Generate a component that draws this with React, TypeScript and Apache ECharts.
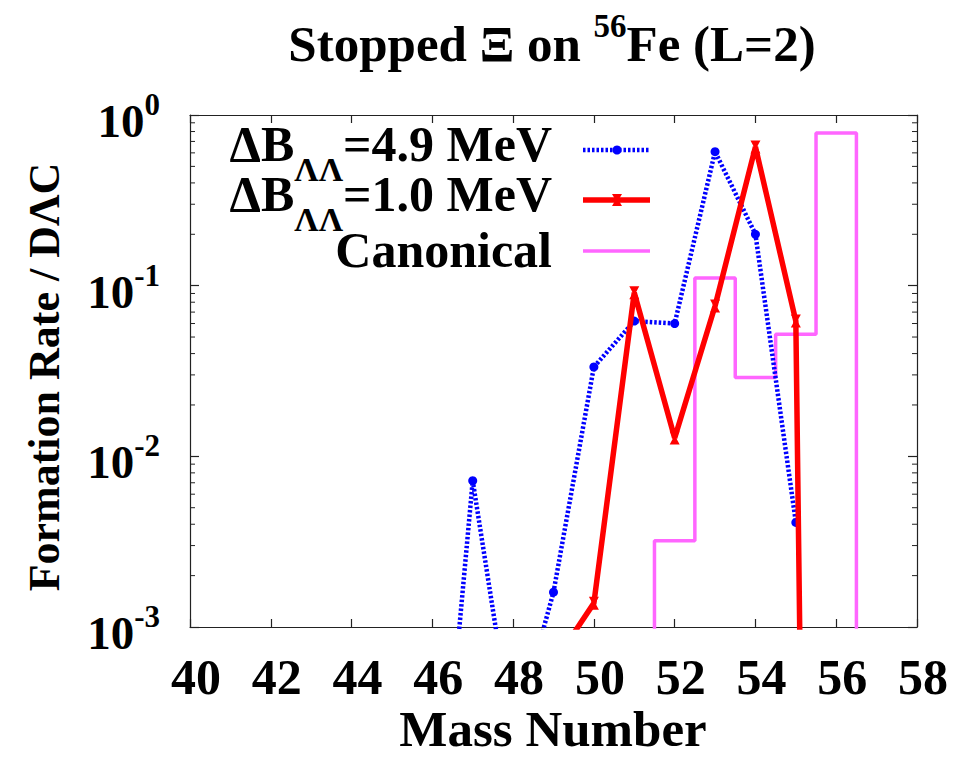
import React, { useEffect, useRef } from 'react';
import * as echarts from 'echarts';

// ---- data ----
const blueMass = [46, 47, 48, 49, 50, 51, 52, 53, 54, 55];
const blueRate = [1.8e-5, 0.0072, 2.2e-4, 0.0016, 0.0334, 0.062, 0.06, 0.61, 0.2, 0.0041];

const redMass = [49, 50, 51, 52, 53, 54, 55, 56];
const redRate = [6.1e-4, 0.00138, 0.091, 0.0128, 0.076, 0.65, 0.062, 1e-20];

const canonMass = [51, 52, 53, 54, 55, 56, 57];
const canonRate = [1e-20, 0.0032, 0.111, 0.029, 0.052, 0.785, 1e-20];

const xMin = 40;
const xMax = 58;
const xInterval = 2;
const yMin = 0.001;
const yMax = 1;
const yMinorTicks = [
  0.002, 0.003, 0.004, 0.005, 0.006, 0.007, 0.008, 0.009,
  0.02, 0.03, 0.04, 0.05, 0.06, 0.07, 0.08, 0.09,
  0.2, 0.3, 0.4, 0.5, 0.6, 0.7, 0.8, 0.9,
];

const FONT = '"Liberation Serif", "Times New Roman", serif';
const AXIS_COLOR = '#222';
const BLUE = '#0000ff';
const RED = '#ff0000';
const MAGENTA = '#ff66ff';

const tok = (fs: number, lh: number, va: string) => ({
  fontFamily: FONT,
  fontWeight: 'bold',
  fontSize: fs,
  lineHeight: lh,
  verticalAlign: va,
  color: '#000',
});

export default function App() {
  const ref = useRef<HTMLDivElement>(null);

  useEffect(() => {
    if (!ref.current) return;
    const chart = echarts.init(ref.current, null, { renderer: 'svg' });

    const supRich = {
      b: tok(47, 64, 'middle'),
      s: tok(31, 31, 'top'),
    };
    const legendRich = {
      m: tok(50, 50, 'top'),
      sub: tok(34, 67, 'bottom'),
    };

    const option: any = {
      animation: false,
      backgroundColor: '#fff',
      grid: { left: 190, right: 50, top: 115, bottom: 130, containLabel: false },
      xAxis: [
        {
          type: 'value',
          min: xMin,
          max: xMax,
          interval: xInterval,
          position: 'bottom',
          axisLine: { show: true, onZero: false, lineStyle: { color: AXIS_COLOR, width: 1.2 } },
          axisTick: { show: true, inside: true, length: 8, lineStyle: { color: AXIS_COLOR, width: 1.2 } },
          axisLabel: {
            show: true,
            margin: 25,
            padding: [0, 0, 0, 12],
            fontFamily: FONT,
            fontWeight: 'bold',
            fontSize: 50,
            lineHeight: 50,
            color: '#000',
          },
          splitLine: { show: false },
        },
        {
          type: 'value',
          min: xMin,
          max: xMax,
          interval: xInterval,
          position: 'top',
          axisLine: { show: true, onZero: false, lineStyle: { color: AXIS_COLOR, width: 1.2 } },
          axisTick: { show: true, inside: true, length: 8, lineStyle: { color: AXIS_COLOR, width: 1.2 } },
          axisLabel: { show: false },
          splitLine: { show: false },
        },
      ],
      yAxis: [
        {
          type: 'log',
          logBase: 10,
          min: yMin,
          max: yMax,
          position: 'left',
          axisLine: { show: true, onZero: false, lineStyle: { color: AXIS_COLOR, width: 1.2 } },
          axisTick: { show: true, inside: true, length: 9, lineStyle: { color: AXIS_COLOR, width: 1.2 } },
          axisLabel: {
            show: true,
            margin: 30,
            padding: [12, 0, 0, 0],
            formatter: (v: number) => `{b|10}{s|${Math.round(Math.log10(v))}}`,
            rich: supRich,
          },
          splitLine: { show: false },
        },
        {
          type: 'log',
          logBase: 10,
          min: yMin,
          max: yMax,
          position: 'right',
          axisLine: { show: true, onZero: false, lineStyle: { color: AXIS_COLOR, width: 1.2 } },
          axisTick: { show: true, inside: true, length: 9, lineStyle: { color: AXIS_COLOR, width: 1.2 } },
          axisLabel: { show: false },
          splitLine: { show: false },
        },
      ],
      series: [
        {
          type: 'custom',
          name: 'minor ticks',
          silent: true,
          clip: false,
          xAxisIndex: 0,
          yAxisIndex: 0,
          data: yMinorTicks.map((v) => [xMin, v]),
          encode: { x: 0, y: 1 },
          renderItem: (params: any, api: any) => {
            const v = api.value(1);
            const l = api.coord([xMin, v]);
            const r = api.coord([xMax, v]);
            const st = { stroke: AXIS_COLOR, lineWidth: 1 };
            return {
              type: 'group',
              children: [
                { type: 'line', shape: { x1: l[0], y1: l[1], x2: l[0] + 5, y2: l[1] }, style: st },
                { type: 'line', shape: { x1: r[0] - 5, y1: r[1], x2: r[0], y2: r[1] }, style: st },
              ],
            };
          },
        },
        {
          type: 'line',
          name: 'Canonical',
          step: 'middle',
          clip: true,
          showSymbol: false,
          symbol: 'none',
          data: canonMass.map((m, i) => [m, canonRate[i]]),
          lineStyle: { color: MAGENTA, width: 3.5 },
          z: 2,
        },
        {
          type: 'line',
          name: 'dB 4.9',
          clip: true,
          data: blueMass.map((m, i) => [m, blueRate[i]]),
          symbol: 'circle',
          symbolSize: 9,
          itemStyle: { color: BLUE },
          lineStyle: { color: BLUE, width: 4.5, type: [2.5, 2] },
          z: 3,
        },
        {
          type: 'line',
          name: 'dB 1.0',
          clip: true,
          data: redMass.map((m, i) => [m, redRate[i]]),
          symbol: 'path://M0,0L10,0L6.5,5L10,10L0,10L3.5,5Z',
          symbolSize: [10, 13],
          itemStyle: { color: RED },
          lineStyle: { color: RED, width: 5.5 },
          z: 4,
        },
      ],
      graphic: [
        {
          type: 'text',
          x: 552,
          y: 9,
          style: {
            text: '{m|Stopped Ξ on }{s|56}{m|Fe (L=2)}',
            align: 'center',
            textAlign: 'center',
            verticalAlign: 'top',
            textVerticalAlign: 'top',
            rich: {
              m: tok(51, 70, 'middle'),
              s: tok(33, 33, 'top'),
            },
          },
        },
        {
          type: 'text',
          x: 553,
          y: 729,
          style: {
            text: 'Mass Number',
            fontFamily: FONT,
            fontWeight: 'bold',
            fontSize: 51,
            lineHeight: 44,
            fill: '#000',
            align: 'center',
            textAlign: 'center',
            verticalAlign: 'middle',
            textVerticalAlign: 'middle',
          },
        },
        {
          type: 'text',
          x: 44,
          y: 377,
          rotation: Math.PI / 2,
          style: {
            text: 'Formation Rate / DΛC',
            fontFamily: FONT,
            fontWeight: 'bold',
            fontSize: 44,
            fill: '#000',
            align: 'center',
            textAlign: 'center',
            verticalAlign: 'middle',
            textVerticalAlign: 'middle',
          },
        },
        // legend
        {
          type: 'text',
          x: 552,
          y: 119,
          style: {
            text: '{m|ΔB}{sub|ΛΛ}{m|=4.9 MeV}',
            align: 'right',
            textAlign: 'right',
            verticalAlign: 'top',
            textVerticalAlign: 'top',
            rich: legendRich,
          },
        },
        {
          type: 'text',
          x: 552,
          y: 169,
          style: {
            text: '{m|ΔB}{sub|ΛΛ}{m|=1.0 MeV}',
            align: 'right',
            textAlign: 'right',
            verticalAlign: 'top',
            textVerticalAlign: 'top',
            rich: legendRich,
          },
        },
        {
          type: 'text',
          x: 552,
          y: 225,
          style: {
            text: '{m|Canonical}',
            align: 'right',
            textAlign: 'right',
            verticalAlign: 'top',
            textVerticalAlign: 'top',
            rich: legendRich,
          },
        },
        {
          type: 'line',
          shape: { x1: 583, y1: 150, x2: 650, y2: 150 },
          style: { stroke: BLUE, lineWidth: 4.5, lineDash: [2.5, 2] },
        },
        { type: 'circle', shape: { cx: 617, cy: 150, r: 4.5 }, style: { fill: BLUE } },
        {
          type: 'line',
          shape: { x1: 583, y1: 200, x2: 650, y2: 200 },
          style: { stroke: RED, lineWidth: 5.5 },
        },
        {
          type: 'polygon',
          shape: { points: [[612, 194], [622, 194], [618.5, 200], [622, 206], [612, 206], [615.5, 200]] },
          style: { fill: RED },
        },
        {
          type: 'line',
          shape: { x1: 583, y1: 251, x2: 650, y2: 251 },
          style: { stroke: MAGENTA, lineWidth: 3.5 },
        },
      ],
    };

    chart.setOption(option);
    return () => chart.dispose();
  }, []);

  return <div ref={ref} style={{ width: 967, height: 757, margin: -8 }} />;
}
